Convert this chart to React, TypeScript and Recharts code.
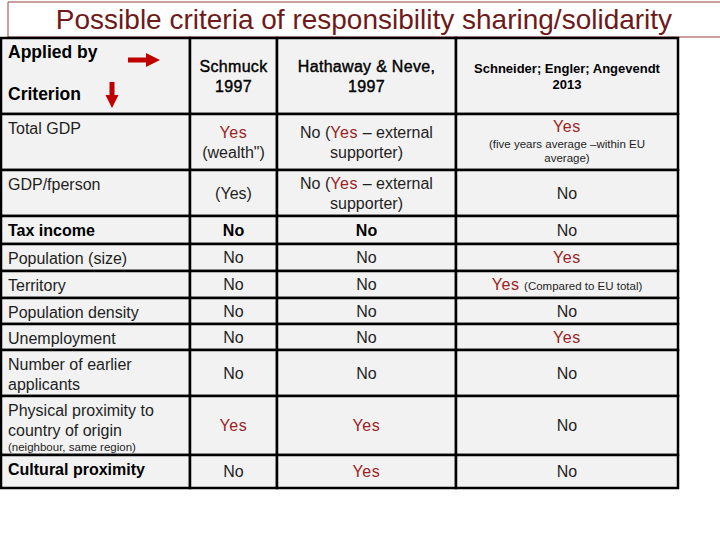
import { ScatterChart, XAxis, YAxis, Scatter, ReferenceArea } from "recharts";

// markup in cell text: <b>bold</b>, <r>red highlight</r>, <s>small note</s>,
// <t>table heading</t>, <h>small heading</h>, <n>author heading</n>; "\n" breaks a line
const title = "Possible criteria of responsibility sharing/solidarity";

const headers = [
  "<t>Applied by</t>\n\n<t>Criterion</t>",
  "<n>Schmuck</n>\n<n>1997</n>",
  "<n>Hathaway & Neve,</n>\n<n>1997</n>",
  "<h>Schneider; Engler; Angevendt</h>\n<h>2013</h>",
];

const criteria = [
  "Total GDP",
  "GDP/fperson",
  "<b>Tax income</b>",
  "Population (size)",
  "Territory",
  "Population density",
  "Unemployment",
  "Number of earlier\napplicants",
  "Physical proximity to\ncountry of origin\n<s>(neighbour, same region)</s>",
  "<b>Cultural proximity</b>",
];

const schmuck1997 = [
  "<r>Yes</r>\n(wealth\")",
  "(Yes)",
  "<b>No</b>",
  "No",
  "No",
  "No",
  "No",
  "No",
  "<r>Yes</r>",
  "No",
];

const hathawayNeve1997 = [
  "No (<r>Yes</r> – external\nsupporter)",
  "No (<r>Yes</r> – external\nsupporter)",
  "<b>No</b>",
  "No",
  "No",
  "No",
  "No",
  "No",
  "<r>Yes</r>",
  "<r>Yes</r>",
];

const schneiderEtAl2013 = [
  "<r>Yes</r>\n<s>(five years average –within EU</s>\n<s>average)</s>",
  "No",
  "No",
  "<r>Yes</r>",
  "<r>Yes</r> <s>(Compared to EU total)</s>",
  "No",
  "<r>Yes</r>",
  "No",
  "No",
  "No",
];

// table layout
const tableLeft = 1;
const tableTop = 38;
const colWidths = [189, 87, 179, 222];
const rowHeights = [76, 56, 46, 28, 27, 27, 26, 26, 46, 59, 33];

const cumulate = (start: number, sizes: number[]) =>
  sizes.reduce((acc, s) => [...acc, acc[acc.length - 1] + s], [start]);
const colEdges = cumulate(tableLeft, colWidths);
const rowEdges = cumulate(tableTop, rowHeights);

const FONT = "'Liberation Sans', Arial, sans-serif";
const RED = "#9b2323";
const TEXT = "#1e1e1e";

const tagStyle: Record<string, any> = {
  "": { fontSize: 16, fontWeight: 400, fill: TEXT },
  b: { fontSize: 16, fontWeight: 700, fill: "#000" },
  n: { fontSize: 16, fontWeight: 400, fill: "#000", stroke: "#000", strokeWidth: 0.4, letterSpacing: 0.3 },
  r: { fontSize: 16, fontWeight: 400, fill: RED, letterSpacing: 0.6 },
  s: { fontSize: 11.5, fontWeight: 400, fill: TEXT },
  t: { fontSize: 17.5, fontWeight: 700, fill: "#000" },
  h: { fontSize: 13, fontWeight: 700, fill: "#000" },
};

const parseLine = (line: string) => {
  const segs: { text: string; tag: string }[] = [];
  const re = /<(\w)>(.*?)<\/\1>/g;
  let last = 0;
  let m;
  while ((m = re.exec(line))) {
    if (m.index > last) segs.push({ text: line.slice(last, m.index), tag: "" });
    segs.push({ text: m[2], tag: m[1] });
    last = m.index + m[0].length;
  }
  if (last < line.length) segs.push({ text: line.slice(last), tag: "" });
  const size = segs.length
    ? Math.max(...segs.map((s) => tagStyle[s.tag].fontSize))
    : 16;
  return { segs, size };
};

const columns = [criteria, schmuck1997, hathawayNeve1997, schneiderEtAl2013];

const cells: any[] = [];
const rowsText = [headers, ...criteria.map((_, i) => columns.map((c) => c[i]))];
rowsText.forEach((row, r) => {
  row.forEach((text, c) => {
    const x1 = colEdges[c];
    const x2 = colEdges[c + 1];
    const y1 = rowEdges[r];
    const y2 = rowEdges[r + 1];
    cells.push({
      key: `${r}-${c}`,
      x1,
      x2,
      y1,
      y2,
      x: c === 0 ? x1 + 7 : (x1 + x2) / 2,
      y: c === 0 ? y1 + 14 : (y1 + y2) / 2,
      anchor: c === 0 ? "start" : "middle",
      valign: c === 0 ? "top" : "middle",
      text,
    });
  });
});

const titlePoint = [{ x: 364, y: 20, text: title }];
const arrows = [
  { x: 144, y: 60, dir: "right" },
  { x: 112, y: 95, dir: "down" },
];

const CellText = (props: any) => {
  const { cx, cy, payload } = props;
  const lines = String(payload.text).split("\n").map(parseLine);
  const offs = [0];
  for (let i = 1; i < lines.length; i++) {
    offs.push(offs[i - 1] + ((lines[i - 1].size + lines[i].size) / 2) * 1.25);
  }
  const shift = payload.valign === "top" ? 0 : -offs[offs.length - 1] / 2;
  return (
    <g>
      {lines.map((l, i) => (
        <text
          key={i}
          x={cx}
          y={cy + shift + offs[i] + l.size * 0.36}
          textAnchor={payload.anchor}
          fontFamily={FONT}
        >
          {l.segs.map((s, j) => (
            <tspan key={j} {...tagStyle[s.tag]}>
              {s.text}
            </tspan>
          ))}
        </text>
      ))}
    </g>
  );
};

const TitleText = (props: any) => (
  <text
    x={props.cx}
    y={props.cy + 9}
    textAnchor="middle"
    fontFamily={FONT}
    fontSize={28}
    fill="#6e1a1a"
  >
    {props.payload.text}
  </text>
);

const Arrow = (props: any) => {
  const { cx, cy, payload } = props;
  const pts =
    payload.dir === "right"
      ? [
          [cx - 16, cy - 2.5],
          [cx + 2, cy - 2.5],
          [cx + 2, cy - 7],
          [cx + 16, cy],
          [cx + 2, cy + 7],
          [cx + 2, cy + 2.5],
          [cx - 16, cy + 2.5],
        ]
      : [
          [cx - 2.5, cy - 13],
          [cx + 2.5, cy - 13],
          [cx + 2.5, cy],
          [cx + 6.5, cy],
          [cx, cy + 13],
          [cx - 6.5, cy],
          [cx - 2.5, cy],
        ];
  return <polygon points={pts.map((p) => p.join(",")).join(" ")} fill="#c00000" />;
};

export default function App() {
  return (
    <div style={{ position: "absolute", left: 0, top: 0, background: "#fff" }}>
      <ScatterChart width={720} height={540} margin={{ top: 0, right: 0, bottom: 0, left: 0 }}>
        <XAxis type="number" dataKey="x" domain={[0, 720]} hide />
        <YAxis type="number" dataKey="y" domain={[0, 540]} reversed hide />
        <ReferenceArea
          x1={8}
          x2={730}
          y1={2}
          y2={37}
          fill="none"
          stroke="#9a4040"
          strokeWidth={1}
          ifOverflow="visible"
        />
        {cells.map((c) => (
          <ReferenceArea
            key={c.key}
            x1={c.x1}
            x2={c.x2}
            y1={c.y1}
            y2={c.y2}
            fill="#f2f2f2"
            fillOpacity={1}
            stroke="#000"
            strokeWidth={2.5}
            ifOverflow="visible"
          />
        ))}
        <Scatter data={titlePoint} shape={TitleText} isAnimationActive={false} />
        <Scatter data={cells} shape={CellText} isAnimationActive={false} />
        <Scatter data={arrows} shape={Arrow} isAnimationActive={false} />
      </ScatterChart>
    </div>
  );
}
